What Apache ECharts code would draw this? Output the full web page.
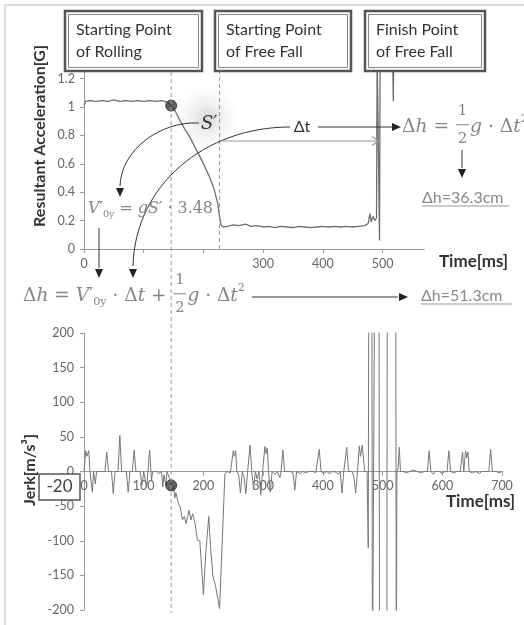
<!DOCTYPE html>
<html><head><meta charset="utf-8">
<script src="https://cdn.jsdelivr.net/npm/echarts@6/dist/echarts.min.js"></script>
<style>html,body{margin:0;padding:0;background:#fff}#c{width:524px;height:625px}</style>
</head><body><div id="c"></div>
<script>
// ---------- data ----------
const accTime  = [0,3,10,20,30,40,50,60,70,80,90,100,110,120,130,140,146,153,160,168,177,188,199,210,218,224,227,229.5,233,240,250,260,270,280,290,300,310,320,330,340,350,360,370,380,390,400,410,420,430,440,450,460,470,476,479,481,484,487,490,491,494,495,496,517,518,519,570];
const accValue = [1.01,1.04,1.045,1.04,1.045,1.04,1.05,1.04,1.045,1.04,1.045,1.04,1.045,1.04,1.045,1.035,1.01,0.97,0.91,0.85,0.79,0.70,0.61,0.51,0.42,0.32,0.23,0.17,0.155,0.16,0.17,0.165,0.175,0.16,0.165,0.155,0.16,0.15,0.16,0.155,0.15,0.16,0.155,0.15,0.155,0.16,0.155,0.16,0.155,0.16,0.155,0.16,0.165,0.18,0.25,0.19,0.23,0.2,0.22,1.4,1.4,0.06,1.4,1.4,1.04,1.4,1.4];
const accDot = [146, 1.01];

const jerkTime  = [0,3,5,8,10,12,14,16,19,21,35,38,41,46,49,52,57,60,63,71,74,77,81,84,87,94,97,100,103,105,107,110,113,115,122,125,130,132,134,137,139,142,144,146,148,150,152,154,158,161,165,168,171,176,179,182,186,190,194,200,204,209,212,216,220,227,236,240,245,248,250,252,254,256,259,262,265,268,271,274,278,281,284,287,290,293,296,299,303,305,307,309,312,315,320,324,328,330,333,336,345,350,353,356,362,366,372,376,384,388,391,394,397,402,406,412,416,422,426,429,432,435,437,440,443,449,452,455,458,461,463,466,470,474,476,477,482,483,486,487,494,495,507,508,522,523,524,526,528,530,535,540,545,552,558,565,570,575,578,581,585,588,595,600,604,608,611,614,620,624,630,634,636,639,641,643,645,650,656,662,666,672,678,681,684,690,695,700];
const jerkValue = [0,30,22,30,0,0,-30,0,-18,0,0,28,0,0,-32,0,0,52,0,0,-30,0,0,31,0,0,-20,0,0,-23,0,31,-13,0,0,-3,0,-22,-5,-20,0,-2,-12,-20,-27,-20,-38,-31,-46,-51,-70,-65,-75,-56,-70,-61,-75,-99,-100,-178,-116,-65,-110,-152,-164,-198,-3,0,-2,0,30,22,30,0,-5,-31,0,-8,-32,0,38,0,-26,0,-11,0,-34,0,36,26,34,0,-30,0,-4,0,-9,0,31,0,0,-2,-27,0,-3,0,-2,0,0,-2,0,32,0,-3,0,-3,0,-1,-4,0,-31,0,0,35,0,0,-8,-31,0,37,22,38,0,0,-110,330,330,-330,-330,330,330,-330,-330,330,330,-330,0,5,35,0,0,-2,0,2,0,-2,0,0,30,0,-4,0,0,-3,0,0,30,0,-2,0,0,28,0,30,20,28,0,-2,0,-3,0,0,0,32,0,0,-2,0];
const jerkDot = [146, -20];

const rollStart = 146;     // ms, starting point of rolling
const fallStart = 227;     // ms, starting point of free fall
const accTicksHidden = [100, 200];
const jerkMin = -200, jerkMax = 200;

// ---------- styles ----------
const SANS = 'Lato, "Open Sans", sans-serif';
const SERIF = '"DejaVu Serif", "Liberation Serif", serif';
const AX = '#9a9a9a', LAB = '#666';
const jerkGridH = 277;

const pair = (t, v) => t.map((x, i) => [x, v[i]]);

const chart = echarts.init(document.getElementById('c'), null, {renderer: 'canvas'});
const axisBase = {
  axisLine: {show: true, lineStyle: {color: AX, width: 1}},
  axisTick: {show: true, length: 4, lineStyle: {color: AX}},
  splitLine: {show: false},
  axisLabel: {color: LAB, fontSize: 12.5, fontFamily: SANS}
};
const option = {
  animation: false,
  backgroundColor: '#fff',
  grid: [
    {left: 84, top: 71.5, width: 340.3, height: 177.5},
    {left: 84, top: 333, width: 418, height: jerkGridH}
  ],
  xAxis: [
    Object.assign({}, axisBase, {type: 'value', gridIndex: 0, min: 0, max: 570, interval: 100,
      axisLabel: Object.assign({}, axisBase.axisLabel, {margin: 8, showMaxLabel: false,
        formatter: v => (accTicksHidden.includes(v) || v > 560) ? '' : String(v)})}),
    Object.assign({}, axisBase, {type: 'value', gridIndex: 1, min: 0, max: 700, interval: 100,
      position: 'bottom',
      offset: -jerkGridH * (0 - jerkMin) / (jerkMax - jerkMin),
      axisLine: {show: true, onZero: false, lineStyle: {color: AX, width: 1}},
      axisLabel: Object.assign({}, axisBase.axisLabel, {margin: 8})})
  ],
  yAxis: [
    Object.assign({}, axisBase, {type: 'value', gridIndex: 0, min: 0, max: 1.25, interval: 0.2,
      axisLabel: Object.assign({}, axisBase.axisLabel, {margin: 9, showMaxLabel: false,
        formatter: v => v > 1.21 ? '' : String(+v.toFixed(1))})}),
    Object.assign({}, axisBase, {type: 'value', gridIndex: 1, min: jerkMin, max: jerkMax, interval: 50,
      axisLabel: Object.assign({}, axisBase.axisLabel, {margin: 10})})
  ],
  series: [
    {type: 'line', xAxisIndex: 0, yAxisIndex: 0, data: pair(accTime, accValue), showSymbol: false,
      lineStyle: {color: '#6e6e6e', width: 1.3}, z: 3,
      markLine: {silent: true, symbol: 'none', label: {show: false},
        lineStyle: {color: '#9a9a9a', type: [4, 3], width: 1}, data: [{xAxis: fallStart}]}},
    {type: 'scatter', xAxisIndex: 0, yAxisIndex: 0, data: [accDot], symbolSize: 11, z: 5,
      itemStyle: {color: '#3c3c3c', borderColor: '#222', borderWidth: 1}},
    {type: 'line', xAxisIndex: 1, yAxisIndex: 1, data: pair(jerkTime, jerkValue), showSymbol: false,
      lineStyle: {color: '#777', width: 1}, z: 3},
    {type: 'scatter', xAxisIndex: 1, yAxisIndex: 1, data: [jerkDot], symbolSize: 11, z: 5,
      itemStyle: {color: '#3c3c3c', borderColor: '#222', borderWidth: 1}}
  ]
};
chart.setOption(option);

// ---------- annotations ----------
const ctx = document.createElement('canvas').getContext('2d');
const measure = (t, font) => { ctx.font = font; return ctx.measureText(t).width; };
const sf = (size, it) => (it ? 'italic ' : '') + size.toFixed(2) + 'px ' + SERIF;
const G = [];
const Z = 100;

function txt(x, y, t, font, fill, align, extra) {
  G.push(Object.assign({type: 'text', x, y, z: Z,
    style: {text: t, font, fill, align: align || 'left', verticalAlign: 'middle', textAlign: align || 'left', textVerticalAlign: 'middle'}}, extra || {}));
}
function line(x1, y1, x2, y2, stroke, w, dash) {
  G.push({type: 'line', z: Z, shape: {x1, y1, x2, y2}, style: {stroke, lineWidth: w || 1, lineDash: dash || null}});
}
function head(tx, ty, ang, fill, len, half) {
  len = len || 9; half = half || 4;
  const dx = Math.cos(ang), dy = Math.sin(ang);
  G.push({type: 'polygon', z: Z, shape: {points: [[tx, ty],
    [tx - len * dx - half * dy, ty - len * dy + half * dx],
    [tx - len * dx + half * dy, ty - len * dy - half * dx]]}, style: {fill: fill || '#222'}});
}
function bez(x1, y1, cx1, cy1, cx2, cy2, x2, y2) {
  G.push({type: 'bezierCurve', z: Z, shape: {x1, y1, cpx1: cx1, cpy1: cy1, cpx2: cx2, cpy2: cy2, x2, y2},
    style: {stroke: '#333', lineWidth: 1, fill: null}});
}
function partWidth(p, s) {
  if (p.k === 'frac') return measure('1', sf(0.8 * s)) + 0.3 * s;
  if (p.k === 'sub' || p.k === 'sup') return measure(p.t, sf(0.6 * s, p.it));
  return measure(p.t, sf(s, p.it));
}
function formula(x0, x1, yMid, parts, color) {
  const base = 17;
  const w = parts.reduce((a, p) => a + partWidth(p, base), 0);
  const s = base * (x1 - x0) / w;
  let cx = x0;
  parts.forEach(p => {
    const pw = partWidth(p, s);
    if (p.k === 'frac') {
      const f = sf(0.8 * s);
      txt(cx + pw / 2, yMid - 0.85 * s, '1', f, color, 'center');
      txt(cx + pw / 2, yMid + 0.65 * s, '2', f, color, 'center');
      line(cx + 0.06 * s, yMid - 0.12 * s, cx + pw - 0.06 * s, yMid - 0.12 * s, color, 1);
    } else if (p.k === 'sub') {
      txt(cx, yMid + 0.35 * s, p.t, sf(0.6 * s, p.it), color);
    } else if (p.k === 'sup') {
      txt(cx, yMid - 0.4 * s, p.t, sf(0.6 * s, p.it), color);
    } else {
      txt(cx, yMid, p.t, sf(s, p.it), color);
    }
    cx += pw;
  });
}
function box(x1, y1, x2, y2, l1, l2) {
  G.push({type: 'rect', z: Z + 5, shape: {x: x1, y: y1, width: x2 - x1, height: y2 - y1},
    style: {fill: '#fff', stroke: '#555', lineWidth: 2.5}});
  G.push({type: 'rect', z: Z + 6, shape: {x: x1 + 3.5, y: y1 + 3.5, width: x2 - x1 - 7, height: y2 - y1 - 7},
    style: {fill: null, stroke: '#888', lineWidth: 1}});
  G.push({type: 'text', z: Z + 7, x: x1 + 11, y: y1 + 19,
    style: {text: l1, font: '16px ' + SANS, fill: '#333', align: 'left', verticalAlign: 'middle'}});
  G.push({type: 'text', z: Z + 7, x: x1 + 11, y: y1 + 41,
    style: {text: l2, font: '16px ' + SANS, fill: '#333', align: 'left', verticalAlign: 'middle'}});
}

// frame of the figure
line(5, 5, 524, 5, '#cfcfcf', 1.5);
line(5, 5, 5, 625, '#cfcfcf', 1.5);

// S' shaded area
G.push({type: 'circle', z: 1, shape: {cx: 207, cy: 118, r: 32},
  style: {fill: new echarts.graphic.RadialGradient(0.5, 0.5, 0.5,
    [{offset: 0, color: 'rgba(150,150,150,0.38)'}, {offset: 1, color: 'rgba(200,200,200,0)'}])}});

// long dashed line through both charts at the starting point of rolling
const px = chart.convertToPixel({xAxisIndex: 0}, rollStart);
line(px, 72, px, 613, '#9a9a9a', 1, [4, 3]);

// boxes
box(65, 11, 202, 71, 'Starting Point', 'of Rolling');
box(215, 11, 351, 71, 'Starting Point', 'of Free Fall');
box(365, 11, 485, 71, 'Finish Point', 'of Free Fall');

// axis titles
txt(40, 136, 'Resultant Acceleration[G]', 'bold 16px ' + SANS, '#333', 'center', {rotation: Math.PI / 2});
txt(30, 470, 'Jerk[m/s³]', 'bold 16px ' + SANS, '#333', 'center', {rotation: Math.PI / 2});
txt(439, 262, 'Time[ms]', 'bold 17px ' + SANS, '#333');
txt(446, 502, 'Time[ms]', 'bold 17px ' + SANS, '#333');

// S' label and arcs
txt(201, 124, 'S′', 'italic 18px ' + SERIF, '#333');
bez(199, 123, 160, 121, 121, 150, 120, 186);
head(120, 197, Math.PI / 2);
bez(290, 127, 205, 127, 135, 185, 133, 266);
head(133, 278, Math.PI / 2);

// Δt
txt(302, 127, 'Δt', '16px ' + SANS, '#333', 'center');
line(318, 127, 392, 127, '#333', 1);
head(401, 127, 0);
line(222, 141, 378, 141, '#999', 1.2);
G.push({type: 'polyline', z: Z, shape: {points: [[372, 136.5], [378.5, 141], [372, 145.5]]}, style: {stroke: '#999', lineWidth: 1.2, fill: null}});

// formulas
const FC = '#858585';
formula(402, 528, 127, [{t: 'Δ'}, {t: 'h', it: 1}, {t: ' = '}, {k: 'frac'}, {t: 'g', it: 1}, {t: ' · Δ'}, {t: 't', it: 1}, {t: '2', k: 'sup'}], FC);
formula(88, 213, 209, [{t: 'V', it: 1}, {t: '′'}, {t: '0y', k: 'sub'}, {t: ' = '}, {t: 'gS', it: 1}, {t: '′'}, {t: ' · 3.48'}], FC);
formula(23, 245, 296, [{t: 'Δ'}, {t: 'h', it: 1}, {t: ' = '}, {t: 'V', it: 1}, {t: '′'}, {t: '0y', k: 'sub'}, {t: ' · Δ'}, {t: 't', it: 1}, {t: ' + '}, {k: 'frac'}, {t: 'g', it: 1}, {t: ' · Δ'}, {t: 't', it: 1}, {t: '2', k: 'sup'}], FC);

// vertical arrows
line(99, 228, 99, 268, '#333', 1);
head(99, 278, Math.PI / 2);
line(462, 150, 462, 168, '#333', 1);
head(462, 178, Math.PI / 2);

// results
txt(422, 198, 'Δh=36.3cm', '16px ' + SANS, '#888');
line(422, 206, 509, 206, '#999', 1);
line(252, 297, 398, 297, '#333', 1);
head(408, 297, 0);
txt(421, 296, 'Δh=51.3cm', '16px ' + SANS, '#888');
line(421, 304, 512, 304, '#999', 1);

// -20 label box
G.push({type: 'rect', z: Z, shape: {x: 39, y: 474, width: 41, height: 26}, style: {fill: '#fff', stroke: '#555', lineWidth: 1.5}});
txt(59.5, 487, '-20', '17px ' + SANS, '#444', 'center');

chart.setOption({graphic: {elements: G}});
</script>
</body></html>
